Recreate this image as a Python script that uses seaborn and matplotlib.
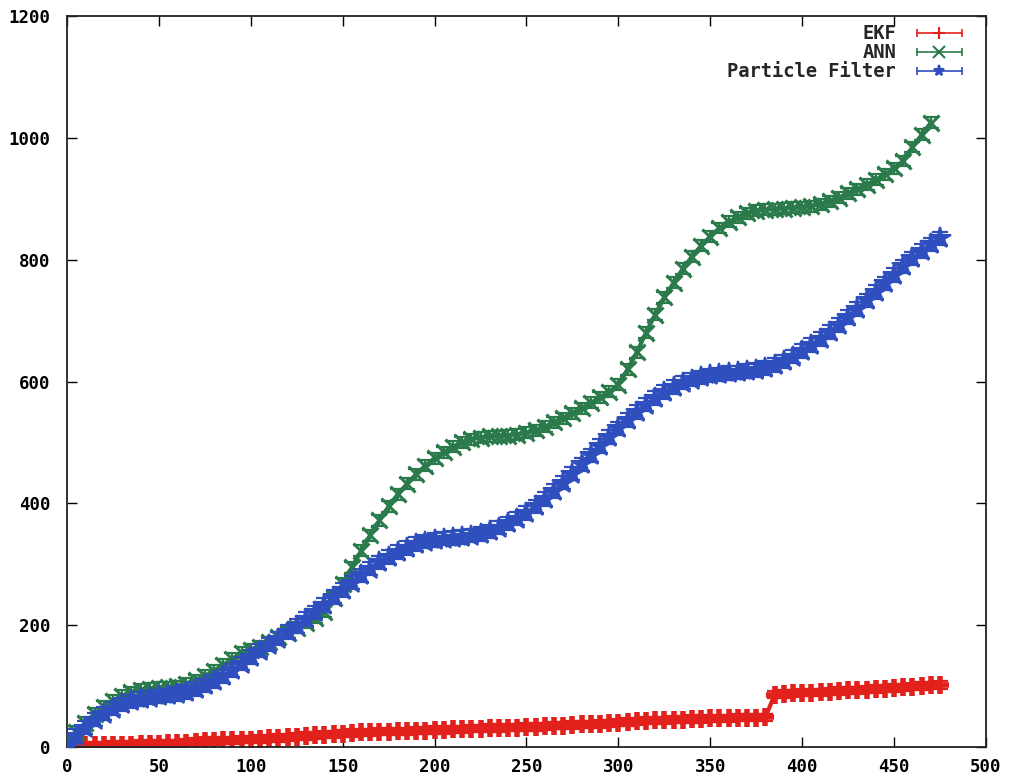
import pandas as pd
import seaborn as sns
import matplotlib.pyplot as plt
from matplotlib.lines import Line2D
from matplotlib.legend_handler import HandlerLine2D, HandlerTuple

# x positions of the samples (every 5 steps)
ekf_x = list(range(0, 476, 5))
ann_x = list(range(0, 471, 5))
pf_x = list(range(0, 476, 5))

# EKF error (red)
ekf_y = [0, 2, 3, 3, 3, 4, 4, 4, 5, 5,
         5, 6, 6, 7, 9, 10, 10, 11, 11, 12,
         12, 13, 14, 15, 16, 17, 18, 19, 20, 21,
         22, 23, 24, 24, 25, 25, 26, 26, 27, 27,
         28, 28, 29, 29, 30, 30, 31, 31, 32, 32,
         33, 33, 34, 35, 35, 36, 37, 37, 38, 39,
         40, 41, 42, 43, 44, 44, 45, 45, 46, 46,
         47, 47, 47, 48, 48, 48, 49, 86, 87, 88,
         89, 89, 90, 91, 92, 93, 93, 94, 95, 96,
         97, 98, 99, 100, 101, 102]

# ANN error (green)
ann_y = [5, 25, 40, 55, 66, 76, 84, 90, 94, 96,
         97, 98, 100, 104, 110, 117, 125, 135, 145, 155,
         160, 165, 172, 180, 188, 196, 204, 212, 222, 245,
         268, 295, 322, 348, 372, 395, 415, 432, 448, 462,
         474, 484, 493, 500, 505, 508, 510, 510, 511, 513,
         516, 520, 526, 533, 540, 548, 556, 565, 574, 583,
         595, 620, 648, 680, 710, 738, 762, 785, 805, 823,
         838, 852, 862, 870, 876, 880, 882, 883, 884, 885,
         886, 888, 891, 896, 902, 909, 916, 923, 931, 940,
         950, 962, 985, 1005, 1025]

# Particle filter error (blue)
pf_y = [0, 18, 32, 45, 55, 63, 70, 75, 79, 81,
        83, 85, 87, 90, 95, 101, 108, 116, 126, 137,
        148, 158, 168, 178, 189, 199, 210, 221, 233, 246,
        258, 270, 282, 293, 303, 312, 320, 327, 333, 337,
        340, 342, 343, 345, 347, 350, 354, 360, 367, 375,
        384, 395, 407, 420, 434, 449, 464, 479, 494, 509,
        523, 537, 550, 562, 573, 583, 591, 598, 603, 607,
        610, 612, 614, 615, 617, 619, 622, 627, 633, 641,
        650, 660, 670, 681, 693, 706, 719, 733, 747, 761,
        775, 789, 802, 814, 825, 835]

# half-height of the error bars
ekf_err = 6
ann_err = 9
pf_err = 11

labels = ['EKF', 'ANN', 'Particle Filter']
colors = ['#e3211c', '#2b7a4b', '#2f4fbf']
markers = ['+', 'x', '*']
msizes = [13, 12, 16]
mews = [4, 2.2, 1.5]

sns.set_style('ticks')
plt.rcParams['font.family'] = ['DejaVu Sans Mono', 'DejaVu Sans']
plt.rcParams['font.weight'] = 'bold'

fig = plt.figure(figsize=(10.09, 7.81), dpi=100)
ax = fig.add_axes([0.0664, 0.0435, 0.9108, 0.936])

series = [(ekf_x, ekf_y, ekf_err), (ann_x, ann_y, ann_err), (pf_x, pf_y, pf_err)]
for i, (xs, ys, err) in enumerate(series):
    df = pd.DataFrame({'step': xs, 'error': ys})
    ax.errorbar(df['step'], df['error'], yerr=err, fmt='none', ecolor=colors[i],
                elinewidth=1.6, capsize=6, capthick=1.6, zorder=2 + i)
    sns.lineplot(data=df, x='step', y='error', color=colors[i], marker=markers[i],
                 markersize=msizes[i], markeredgewidth=mews[i],
                 markeredgecolor=colors[i], linewidth=3, ax=ax, legend=False,
                 zorder=2 + i)

ax.set_xlim(0, 500)
ax.set_ylim(0, 1200)
ax.set_xticks(range(0, 501, 50))
ax.set_yticks(range(0, 1201, 200))
ax.set_xlabel('')
ax.set_ylabel('')
ax.tick_params(direction='in', top=True, right=True, length=7, width=1,
               labelsize=12.5, colors='black')
ax.tick_params(axis='y', pad=12)
ax.tick_params(axis='x', pad=8)
for lab in ax.get_xticklabels() + ax.get_yticklabels():
    lab.set_fontweight('bold')
for sp in ax.spines.values():
    sp.set_visible(True)
    sp.set_linewidth(1.3)
    sp.set_color('#222222')

# gnuplot-like legend samples: line with end caps plus a centre marker
handles = []
hmap = {}
for i in range(3):
    line = Line2D([], [], color=colors[i], linewidth=1.2, marker='|',
                  markersize=6, markeredgewidth=1.2)
    mark = Line2D([], [], color=colors[i], linestyle='none', marker=markers[i],
                  markersize=8, markeredgewidth=1.5)
    hmap[line] = HandlerLine2D(numpoints=2)
    hmap[mark] = HandlerLine2D(numpoints=1)
    handles.append((line, mark))
for h in handles:
    hmap[h] = HandlerTuple(ndivide=1)
leg = ax.legend(handles, labels, handler_map=hmap,
                loc='upper right', bbox_to_anchor=(0.998, 1.012), frameon=False,
                markerfirst=False, handlelength=3.0, handletextpad=0.8,
                labelspacing=0.0, prop={'family': 'DejaVu Sans Mono', 'weight': 'bold', 'size': 13.5})

fig.savefig('out.png', dpi=100, facecolor='white')
